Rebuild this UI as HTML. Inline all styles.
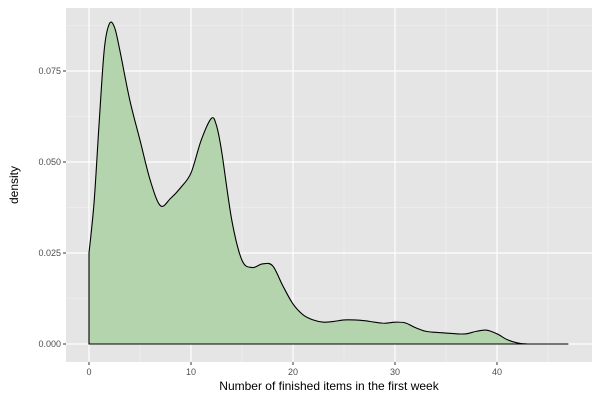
<!DOCTYPE html>
<html><head><meta charset="utf-8"><style>
body{margin:0;background:#fff;font-family:"Liberation Sans",sans-serif}
svg text{font-family:"Liberation Sans",sans-serif}
</style></head><body>
<svg id="chart" width="600" height="400"></svg>
<script>
const xs=[0,0.5,1,1.5,2,2.5,3,4,5,6,7,8,9,10,11,12,12.5,13,14,15,16,17,18,19,20,21,22,23,24,25,26,27,28,29,30,31,32,33,34,35,36,37,38,39,40,41,42,43,45,47];
const dens=[0.025,0.039,0.061,0.081,0.088,0.087,0.081,0.067,0.056,0.045,0.038,0.040,0.043,0.047,0.056,0.062,0.060,0.053,0.034,0.023,0.021,0.022,0.0215,0.016,0.011,0.008,0.0066,0.006,0.0062,0.0066,0.0066,0.0064,0.006,0.0057,0.006,0.0058,0.0045,0.0035,0.0032,0.003,0.0028,0.0028,0.0035,0.0038,0.0028,0.0012,0.0003,0,0,0];
const xTicks=[0,10,20,30,40];
const yTicks=[0,0.025,0.05,0.075];
const yTickLabels=["0.000","0.025","0.050","0.075"];
const NS="http://www.w3.org/2000/svg";
const svg=document.getElementById('chart');
const L=66,R=592,T=8,B=362;
const X=v=>89+v*10.2, Y=v=>344-v*3640;
function mk(t,a,p){const e=document.createElementNS(NS,t);for(const k in a)e.setAttribute(k,a[k]);(p||svg).appendChild(e);return e;}
const panel=mk('rect',{x:L,y:T,width:R-L,height:B-T,fill:'#e5e5e5'});


// minor grid
for(let i=0;i<xTicks.length;i++){const v=xTicks[i]+5;const g=mk('line',{x1:X(v),x2:X(v),y1:T,y2:B,stroke:'#f2f2f2','stroke-width':0.6});}
for(let i=0;i<yTicks.length;i++){const v=yTicks[i]+0.0125;const g=mk('line',{x1:L,x2:R,y1:Y(v),y2:Y(v),stroke:'#f2f2f2','stroke-width':0.6});}
xTicks.forEach(v=>{const g=mk('line',{x1:X(v),x2:X(v),y1:T,y2:B,stroke:'#fff','stroke-width':1.2});
 const t=mk('line',{x1:X(v),x2:X(v),y1:B,y2:B+3,stroke:'#333'});
 const l=mk('text',{x:X(v),y:B+13,'text-anchor':'middle','font-size':9,fill:'#4d4d4d'});l.textContent=v;});
yTicks.forEach((v,i)=>{const g=mk('line',{x1:L,x2:R,y1:Y(v),y2:Y(v),stroke:'#fff','stroke-width':1.2});
 const t=mk('line',{x1:L-3,x2:L,y1:Y(v),y2:Y(v),stroke:'#333'});
 const l=mk('text',{x:L-5,y:Y(v)+3,'text-anchor':'end','font-size':9,fill:'#4d4d4d'});l.textContent=yTickLabels[i];});
// curve (catmull-rom)
const P=xs.map((x,i)=>[X(x),Y(dens[i])]);
let d=`M${P[0][0]},${Y(0)} L${P[0][0]},${P[0][1]}`;
for(let i=0;i<P.length-1;i++){const p0=P[Math.max(0,i-1)],p1=P[i],p2=P[i+1],p3=P[Math.min(P.length-1,i+2)];
 const c1=[p1[0]+(p2[0]-p0[0])/6,p1[1]+(p2[1]-p0[1])/6],c2=[p2[0]-(p3[0]-p1[0])/6,p2[1]-(p3[1]-p1[1])/6];
 d+=` C${c1[0]},${Math.min(c1[1],Y(0))} ${c2[0]},${Math.min(c2[1],Y(0))} ${p2[0]},${p2[1]}`;}
const area=mk('path',{d:d+` L${P[P.length-1][0]},${Y(0)} Z`,fill:'#b4d4ad',stroke:'#000','stroke-width':1.1});


const xt=mk('text',{x:(L+R)/2,y:390,'text-anchor':'middle','font-size':12,fill:'#000'});xt.textContent='Number of finished items in the first week';


const yt=mk('text',{x:0,y:0,'text-anchor':'middle','font-size':12,fill:'#000',transform:`translate(18,${(T+B)/2}) rotate(-90)`});yt.textContent='density';


</script></body></html>
